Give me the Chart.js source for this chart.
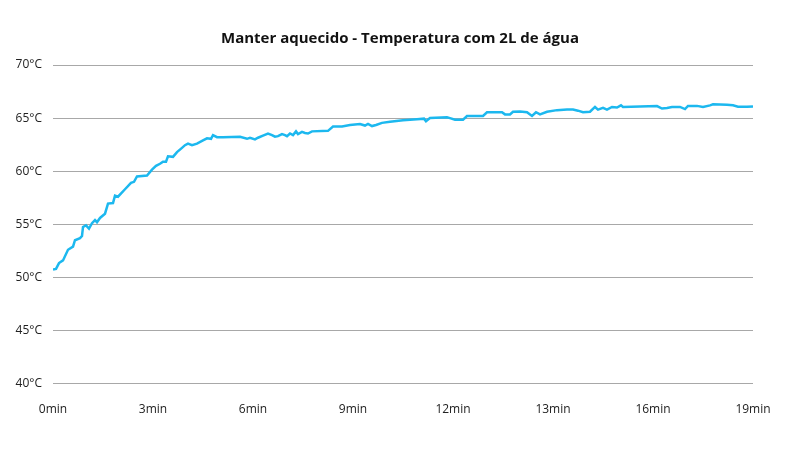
<!DOCTYPE html>
<html>
<head>
<meta charset="utf-8">
<script src="https://cdn.jsdelivr.net/npm/chart.js@4"></script>
<style>
html,body{margin:0;padding:0;background:#fff;}
#wrap{width:800px;height:450px;}
</style>
</head>
<body>
<div id="wrap"><canvas id="c"></canvas></div>
<script>
const chartTitle = 'Manter aquecido - Temperatura com 2L de água';
const xTickLabels = ['0min','3min','6min','9min','12min','13min','16min','19min'];
const yTickValues = [40,45,50,55,60,65,70];
// x position in units of tick-label intervals (0 = "0min", 7 = "19min")
const xPos = [0.00,0.03,0.06,0.10,0.15,0.20,0.22,0.27,0.29,0.30,0.33,0.36,0.39,0.42,0.44,0.47,0.52,0.55,0.60,0.62,0.65,0.72,0.78,0.81,0.84,0.94,0.99,1.03,1.07,1.10,1.13,1.15,1.20,1.24,1.29,1.32,1.35,1.39,1.44,1.50,1.54,1.58,1.60,1.64,1.70,1.87,1.94,1.97,2.02,2.05,2.10,2.15,2.19,2.22,2.25,2.29,2.32,2.34,2.37,2.40,2.43,2.45,2.49,2.52,2.55,2.59,2.75,2.80,2.89,2.97,3.07,3.12,3.15,3.19,3.23,3.29,3.37,3.50,3.64,3.71,3.73,3.77,3.94,3.97,4.02,4.10,4.14,4.30,4.34,4.49,4.52,4.57,4.60,4.67,4.74,4.79,4.83,4.87,4.94,5.04,5.14,5.20,5.25,5.30,5.37,5.42,5.45,5.50,5.54,5.59,5.64,5.68,5.70,6.04,6.09,6.14,6.19,6.27,6.32,6.35,6.44,6.50,6.57,6.60,6.74,6.80,6.85,6.94,7.00];
const temperatures = [50.73,50.8,51.35,51.6,52.6,52.9,53.5,53.7,53.9,54.75,54.9,54.6,55.1,55.4,55.2,55.6,56.0,56.95,57.0,57.7,57.6,58.3,58.9,59.0,59.5,59.6,60.15,60.5,60.7,60.9,60.9,61.4,61.35,61.8,62.2,62.45,62.6,62.45,62.6,62.9,63.1,63.05,63.4,63.2,63.2,63.25,63.05,63.15,63.0,63.15,63.35,63.55,63.4,63.25,63.3,63.5,63.4,63.3,63.55,63.4,63.75,63.5,63.7,63.6,63.55,63.75,63.8,64.2,64.2,64.35,64.45,64.3,64.45,64.25,64.35,64.55,64.65,64.8,64.9,64.95,64.7,65.0,65.07,65.0,64.85,64.85,65.2,65.2,65.55,65.55,65.35,65.35,65.6,65.63,65.55,65.2,65.55,65.35,65.6,65.75,65.8,65.8,65.7,65.55,65.6,66.05,65.8,65.97,65.8,66.05,66.0,66.2,66.05,66.13,65.9,65.95,66.05,66.05,65.85,66.15,66.15,66.05,66.2,66.3,66.25,66.2,66.07,66.07,66.1];

const points = xPos.map((x, i) => ({x: x, y: temperatures[i]}));

// Center the title on the full canvas width (the plot area is offset to the left)
const centerTitle = {
  id: 'centerTitle',
  afterLayout(chart) {
    const t = chart.titleBlock;
    if (t) { t.left = 0; t.right = chart.width; t.width = chart.width; }
  }
};

new Chart(document.getElementById('c'), {
  type: 'line',
  plugins: [centerTitle],
  data: {
    datasets: [{
      data: points,
      borderColor: '#1cb8ef',
      borderWidth: 2.5,
      pointRadius: 0,
      tension: 0,
      fill: false
    }]
  },
  options: {
    responsive: true,
    maintainAspectRatio: false,
    animation: false,
    layout: {padding: {left: 3, right: 47, top: 8, bottom: 22}},
    plugins: {
      legend: {display: false},
      tooltip: {enabled: false},
      title: {
        display: true,
        text: chartTitle,
        color: '#111',
        font: {family: 'Open Sans', size: 15, weight: 'bold'},
        padding: {top: 22, bottom: 17}
      }
    },
    scales: {
      x: {
        type: 'linear',
        min: 0,
        max: xTickLabels.length - 1,
        grid: {display: false},
        border: {display: false},
        afterBuildTicks: (axis) => { axis.ticks = xTickLabels.map((_, i) => ({value: i})); },
        ticks: {
          color: '#222',
          font: {family: 'Open Sans', size: 12},
          padding: 11,
          maxRotation: 0,
          autoSkip: false,
          callback: (v) => xTickLabels[v]
        }
      },
      y: {
        min: yTickValues[0],
        max: yTickValues[yTickValues.length - 1],
        afterBuildTicks: (axis) => { axis.ticks = yTickValues.map(v => ({value: v})); },
        afterFit: (axis) => { axis.width = 50; },
        grid: {color: '#a8a8a8', lineWidth: 1, drawTicks: false},
        border: {display: false},
        ticks: {
          color: '#222',
          font: {family: 'Open Sans', size: 12},
          padding: 11,
          callback: (v) => v + '°C'
        }
      }
    }
  }
});
</script>
</body>
</html>
